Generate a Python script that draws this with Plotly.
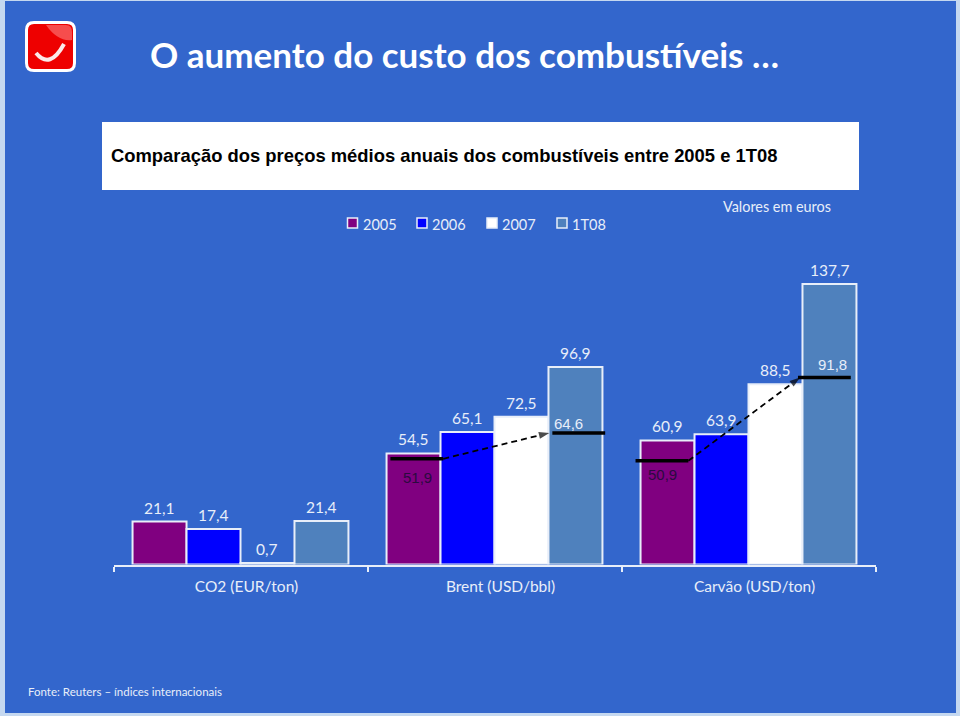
import plotly.graph_objects as go

W, H = 960, 716
BG = "#3366CC"
LIGHT = "#E8EEF9"

categories = ["CO2 (EUR/ton)", "Brent (USD/bbl)", "Carvão (USD/ton)"]
years = ["2005", "2006", "2007", "1T08"]
v2005 = [21.1, 54.5, 60.9]
v2006 = [17.4, 65.1, 63.9]
v2007 = [0.7, 72.5, 88.5]
v1t08 = [21.4, 96.9, 137.7]
series_values = [v2005, v2006, v2007, v1t08]
colors = ["#800080", "#0000FF", "#FFFFFF", "#4F81BD"]

brent_avg = [51.9, 64.6]
coal_avg = [50.9, 91.8]

def fx(p): return p / W
def fy(p): return 1 - p / H
def lab(v): return f"{v:.1f}".replace(".", ",")

X0, X1, BASE = 113.5, 875.5, 564.5
PX_PER_UNIT = 2.037
Y_MAX = 150
TOP = BASE - Y_MAX * PX_PER_UNIT
GAP = 0.15
BAR_W = (1 - GAP) / 4

def slot(cat, idx):
    return cat + (idx - 1.5) * BAR_W

fig = go.Figure()
annotations = []
for j, (name, vals, col) in enumerate(zip(years, series_values, colors)):
    fig.add_bar(
        x=categories, y=vals, name=name,
        marker=dict(color=col, line=dict(color=LIGHT, width=2)),
        cliponaxis=False, showlegend=False,
    )
    for i, v in enumerate(vals):
        annotations.append(dict(xref="x2", yref="y", x=slot(i, j), y=v, text=lab(v), yshift=14,
                                yanchor="middle", showarrow=False,
                                font=dict(family="Lato", size=15.5, color=LIGHT)))

def mean_marks(cat, vals, sx, ex, tip):
    # thick black segments over the 2005 and 1T08 bars, joined by a dashed arrow
    hw = 0.104
    for i, v, s in ((0, vals[0], sx), (3, vals[1], ex)):
        fig.add_scatter(
            x=[slot(cat, i) + s - hw, slot(cat, i) + s + hw], y=[v, v], xaxis="x2",
            mode="lines", line=dict(color="black", width=3.5),
            showlegend=False, hoverinfo="skip",
        )
    fig.add_scatter(
        x=[slot(cat, 0) + sx + hw, slot(cat, 3) + ex - hw + tip], y=vals, xaxis="x2",
        mode="lines+markers", line=dict(color="black", width=1.8, dash="6px,4px"),
        marker=dict(symbol=["circle", "arrow"], size=[0, 11], color="black",
                    angleref="previous", line=dict(width=0)),
        showlegend=False, hoverinfo="skip",
    )

mean_marks(1, brent_avg, 0.013, 0.013, -0.012)
mean_marks(2, coal_avg, -0.022, -0.02, 0.008)

shapes = [
    dict(type="rect", xref="paper", yref="paper", x0=fx(5), x1=fx(956), y0=fy(713), y1=fy(1),
         fillcolor=BG, line=dict(width=0), layer="below"),
    dict(type="rect", xref="paper", yref="paper", x0=fx(102), x1=fx(859), y0=fy(190), y1=fy(122),
         fillcolor="white", line=dict(width=0), layer="below"),
]

def rr(x0, y0, x1, y1, r):
    return (f"M{fx(x0+r)},{fy(y0)} L{fx(x1-r)},{fy(y0)} Q{fx(x1)},{fy(y0)} {fx(x1)},{fy(y0+r)} "
            f"L{fx(x1)},{fy(y1-r)} Q{fx(x1)},{fy(y1)} {fx(x1-r)},{fy(y1)} "
            f"L{fx(x0+r)},{fy(y1)} Q{fx(x0)},{fy(y1)} {fx(x0)},{fy(y1-r)} "
            f"L{fx(x0)},{fy(y0+r)} Q{fx(x0)},{fy(y0)} {fx(x0+r)},{fy(y0)} Z")

shapes += [
    dict(type="path", xref="paper", yref="paper", path=rr(25, 21, 76, 72, 9),
         fillcolor="white", line=dict(width=0)),
    dict(type="path", xref="paper", yref="paper", path=rr(28, 24, 73, 69, 6),
         fillcolor="#EE0000", line=dict(width=0)),
    dict(type="path", xref="paper", yref="paper",
         path=f"M{fx(46)},{fy(25)} L{fx(66)},{fy(25)} Q{fx(72)},{fy(25)} {fx(72)},{fy(32)} "
              f"L{fx(72)},{fy(40)} Q{fx(58)},{fy(42)} {fx(46)},{fy(25)} Z",
         fillcolor="rgba(255,170,170,0.45)", line=dict(width=0)),
    dict(type="path", xref="paper", yref="paper",
         path=f"M{fx(36)},{fy(53)} Q{fx(50)},{fy(70)} {fx(64)},{fy(44)}",
         line=dict(color="#FBE9E9", width=4)),
]

legend_x = [347.5, 417, 487, 557]
for name, col, lx in zip(years, colors, legend_x):
    shapes.append(dict(type="rect", xref="paper", yref="paper",
                       x0=fx(lx), x1=fx(lx + 10), y0=fy(228), y1=fy(218),
                       fillcolor=col, line=dict(color=LIGHT, width=1.5)))
    annotations.append(dict(xref="paper", yref="paper", x=fx(lx + 13), y=fy(224.5), text=name,
                            xanchor="left", yanchor="middle", showarrow=False,
                            font=dict(family="Lato", size=14.5, color=LIGHT)))

def text(x, y, s, size, color, family="Lato", anchor="left", bold=False):
    annotations.append(dict(xref="paper", yref="paper", x=fx(x), y=fy(y),
                            text=f"<b>{s}</b>" if bold else s, xanchor=anchor, yanchor="middle",
                            showarrow=False, font=dict(family=family, size=size, color=color)))

text(148, 54, "O aumento do custo dos combustíveis …", 35, "white", bold=True)
text(109, 156, "Comparação dos preços médios anuais dos combustíveis entre 2005 e 1T08", 18.4,
     "black", family="Liberation Sans", bold=True)
text(721, 206, "Valores em euros", 14.4, LIGHT)
text(26, 691, "Fonte: Reuters – índices internacionais", 11.5, LIGHT)

def avg_label(x, y, v, color):
    text(x, y, lab(v), 15, color, family="Liberation Sans", anchor="center")

avg_label(417, 477, brent_avg[0], "#2B0A40")
avg_label(568, 423, brent_avg[1], LIGHT)
avg_label(662, 474, coal_avg[0], "#2B0A40")
avg_label(832, 364, coal_avg[1], LIGHT)

fig.update_layout(
    width=W, height=H, autosize=False,
    margin=dict(l=0, r=0, t=0, b=0),
    paper_bgcolor="#C5D8F0", plot_bgcolor="rgba(0,0,0,0)",
    barmode="group", bargap=GAP, bargroupgap=0,
    shapes=shapes, annotations=annotations, showlegend=False,
    xaxis=dict(domain=[fx(X0), fx(X1)], type="category", tickson="boundaries", ticks="outside",
               ticklen=5, tickwidth=1.5, tickcolor=LIGHT, showline=True, linecolor=LIGHT, linewidth=2,
               showgrid=False, zeroline=False, anchor="y", ticklabelstandoff=7, ticklabelshift=6,
               tickfont=dict(family="Lato", size=15.5, color=LIGHT)),
    xaxis2=dict(domain=[fx(X0), fx(X1)], overlaying="x", range=[-0.5, 2.5], visible=False, anchor="y"),
    yaxis=dict(domain=[fy(BASE), fy(TOP)], range=[0, Y_MAX], visible=False, fixedrange=True),
)
fig.write_html("out.html", config={"displayModeBar": False},
               post_script="document.body.style.margin='0';document.body.style.overflow='hidden';")
